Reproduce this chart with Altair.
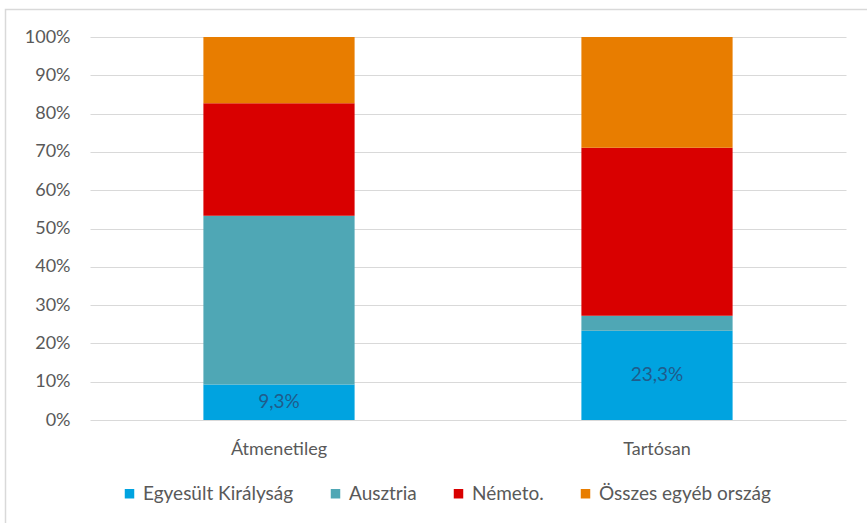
import altair as alt
import pandas as pd

# Share of respondents by destination country, per type of stay
categories = ["Átmenetileg", "Tartósan"]
countries = ["Egyesült Királyság", "Ausztria", "Németo.", "Összes egyéb ország"]
colors = ["#00A3E0", "#4FA7B5", "#D90000", "#E87D00"]

atmenetileg = [9.3, 44.0, 29.4, 17.3]
tartosan = [23.3, 3.9, 43.9, 28.9]
y_ticks = [0, 0.1, 0.2, 0.3, 0.4, 0.5, 0.6, 0.7, 0.8, 0.9, 1.0]

# value labels shown only on the UK segment
labelled = {"Egyesült Királyság"}

rows = []
for cat, vals in zip(categories, [atmenetileg, tartosan]):
    for i, (c, v) in enumerate(zip(countries, vals)):
        rows.append({
            "kategoria": cat,
            "orszag": c,
            "ertek": v / 100,
            "sorrend": i,
            "felirat": (f"{v:.1f}%".replace(".", ",") if c in labelled else ""),
        })
df = pd.DataFrame(rows)

FONT = "Lato"
GREY = "#595959"

x_axis = alt.Axis(labelAngle=0, ticks=False, domain=False, labelPadding=20,
                  labelFontSize=18, labelColor=GREY, labelFont=FONT)
y_axis = alt.Axis(format=".0%", values=y_ticks, labelOverlap=False,
                  ticks=False, domain=False, labelPadding=20, labelFontSize=18,
                  labelColor=GREY, labelFont=FONT, gridColor="#D9D9D9",
                  gridWidth=1)

base = alt.Chart(df).encode(
    x=alt.X("kategoria:N", sort=categories, title=None,
            scale=alt.Scale(paddingInner=0.6, paddingOuter=0.3), axis=x_axis),
    y=alt.Y("ertek:Q", stack="zero", title=None,
            scale=alt.Scale(domain=[0, 1]), axis=y_axis),
    order=alt.Order("sorrend:Q", sort="ascending"),
)

bars = base.mark_bar().encode(
    color=alt.Color(
        "orszag:N", sort=countries,
        scale=alt.Scale(domain=countries, range=colors),
        legend=alt.Legend(
            title=None, orient="none", direction="horizontal",
            legendX=30, legendY=447, symbolType="square", symbolSize=90,
            symbolStrokeWidth=0, labelFontSize=19, labelColor=GREY,
            labelFont=FONT, columnPadding=32, symbolOffset=0, labelOffset=4,
            labelLimit=400,
        ),
    ),
)

labels = base.mark_text(
    fontSize=19, font=FONT, color="#1F5C8C", baseline="middle"
).encode(
    y=alt.Y("ertek:Q", stack="zero", bandPosition=0.5, title=None,
            scale=alt.Scale(domain=[0, 1]), axis=y_axis),
    text="felirat:N",
)

# light outer frame around the chart area (runs off the right and bottom)
frame = alt.Chart(pd.DataFrame({"k": [0]})).mark_rect(
    fill=None, stroke="#D9D9D9", strokeWidth=1.5, clip=False
).encode(
    x=alt.value(-84.5), x2=alt.value(800), y=alt.value(-27.5), y2=alt.value(520)
)

chart = alt.layer(frame, bars, labels).properties(
    width=756, height=383,
    padding={"left": 90, "top": 37, "right": 21, "bottom": 103},
    autosize=alt.AutoSizeParams(type="none"),
    background="white",
).configure_view(stroke=None)

chart.save("out.html", embed_options={"renderer": "svg", "actions": False})
